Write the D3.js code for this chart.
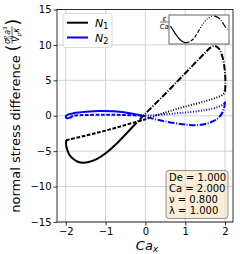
<!DOCTYPE html>
<html>
<head>
<meta charset="utf-8">
<script src="https://cdn.jsdelivr.net/npm/d3@7"></script>
<style>
body { margin: 0; background: #fff; }
text { font-family: "DejaVu Sans", sans-serif; }
</style>
</head>
<body>
<svg width="240" height="254"></svg>
<script>
var xTicks = [-2, -1, 0, 1, 2]
var yTicks = [-15, -10, -5, 0, 5, 10, 15]

// N1, one loop split by line style
var n1Dotted = [[0.0, -0.5], [0.5, 0.45], [1.0, 1.3], [1.5, 2.05], [1.8, 2.6], [1.95, 3.0], [2.0, 3.4]]
var n1DashDot = [[2.0, 3.4], [2.01, 4.6], [2.0, 6.0], [1.97, 7.4], [1.92, 8.6], [1.85, 9.45], [1.75, 9.85], [1.65, 9.7], [1.5, 8.9], [1.0, 6.0], [0.5, 3.1], [0.0, 0.3], [-0.3, -1.45]]
var n1Solid = [[-0.3, -1.45], [-0.7, -3.8], [-1.0, -5.3], [-1.2, -6.05], [-1.4, -6.5], [-1.56, -6.65], [-1.7, -6.5], [-1.8, -6.15], [-1.9, -5.6], [-1.95, -5.0], [-1.99, -4.2], [-1.99, -3.45]]
var n1Dashed = [[-1.99, -3.45], [-1.5, -2.8], [-1.0, -2.1], [-0.5, -1.3], [0.0, -0.5]]

// N2
var n2Dotted = [[0.0, 0.0], [0.5, 0.2], [1.0, 0.45], [1.5, 0.8], [1.8, 1.2], [1.95, 1.6], [2.0, 2.0]]
var n2DashDot = [[2.0, 2.0], [1.98, 1.2], [1.92, 0.3], [1.8, -0.45], [1.6, -1.0], [1.35, -1.3], [1.0, -1.25], [0.5, -0.8], [0.1, -0.3], [-0.15, 0.1]]
var n2Solid = [[-0.15, 0.1], [-0.5, 0.45], [-0.8, 0.62], [-1.15, 0.68], [-1.5, 0.55], [-1.8, 0.35], [-1.95, 0.15], [-2.0, -0.1], [-1.97, -0.35], [-1.9, -0.3]]
var n2Dashed = [[-1.9, -0.3], [-1.8, 0.0], [-1.5, 0.1], [-1.0, 0.15], [-0.5, 0.1], [0.0, 0.0]]

// inset: strain rate over one period
var insetT = [0, 0.05, 0.1, 0.15, 0.2, 0.27, 0.35, 0.42, 0.5, 0.57, 0.65, 0.72, 0.77, 0.83, 0.9, 0.97, 1.0]
var insetV = [0.25, -0.08, -0.4, -0.68, -0.88, -1.0, -0.88, -0.6, -0.05, 0.42, 0.82, 0.98, 1.0, 0.92, 0.6, 0.15, 0.0]

var params = ['De = 1.000', 'Ca = 2.000', 'ν = 0.800', 'λ = 1.000']

var dash = {
  solid: null,
  dashed: '3.7,1.6',
  dotted: '1,1.65',
  dashdot: '6.4,1.6,1,1.6'
}

var svg = d3.select('svg')
var x = d3.scaleLinear().domain([-2.22, 2.2]).range([57, 233])
var y = d3.scaleLinear().domain([-15, 15]).range([222, 9.5])

// grid
svg.append('g').selectAll('line').data(xTicks).join('line')
  .attr('x1', function(d) { return x(d) }).attr('x2', function(d) { return x(d) })
  .attr('y1', y(-15)).attr('y2', y(15))
  .attr('stroke', '#c8c8c8').attr('stroke-width', 0.8)
svg.append('g').selectAll('line').data(yTicks).join('line')
  .attr('y1', function(d) { return y(d) }).attr('y2', function(d) { return y(d) })
  .attr('x1', 57).attr('x2', 233)
  .attr('stroke', '#c8c8c8').attr('stroke-width', 0.8)

var line = d3.line()
  .x(function(d) { return x(d[0]) })
  .y(function(d) { return y(d[1]) })
  .curve(d3.curveCatmullRom)

function drawSeries(segs, color) {
  segs.forEach(function(s) {
    svg.append('path')
      .attr('d', line(s[0]))
      .attr('fill', 'none')
      .attr('stroke', color)
      .attr('stroke-width', 2)
      .attr('stroke-dasharray', dash[s[1]])
  })
}

drawSeries([[n2Dotted, 'dotted'], [n2DashDot, 'dashdot'], [n2Solid, 'solid'], [n2Dashed, 'dashed']], '#0000ff')
drawSeries([[n1Dotted, 'dotted'], [n1DashDot, 'dashdot'], [n1Solid, 'solid'], [n1Dashed, 'dashed']], '#000')

// axes
var fmt = d3.format('d')
svg.append('g').attr('transform', 'translate(0,222)')
  .call(d3.axisBottom(x).tickValues(xTicks).tickSize(3.5).tickPadding(2).tickFormat(fmt))
svg.append('g').attr('transform', 'translate(57,0)')
  .call(d3.axisLeft(y).tickValues(yTicks).tickSize(3.5).tickPadding(2).tickFormat(fmt))
svg.selectAll('.domain').remove()
svg.selectAll('.tick text').attr('font-size', 10).attr('font-family', 'DejaVu Sans').attr('fill', '#000')
svg.selectAll('.tick line').attr('stroke', '#000').attr('stroke-width', 0.8)

svg.append('rect')
  .attr('x', 57).attr('y', 9.5).attr('width', 176).attr('height', 212.5)
  .attr('fill', 'none').attr('stroke', '#000').attr('stroke-width', 0.8)

// legend
var leg = svg.append('g')
leg.append('rect')
  .attr('x', 63).attr('y', 13.5).attr('width', 49).attr('height', 34).attr('rx', 2.5)
  .attr('fill', '#fff').attr('fill-opacity', 0.8).attr('stroke', '#d0d0d0').attr('stroke-width', 0.8)
;[['#000', '1', 22.7], ['#0000ff', '2', 37.5]].forEach(function(e) {
  leg.append('line').attr('x1', 67).attr('x2', 88).attr('y1', e[2]).attr('y2', e[2])
    .attr('stroke', e[0]).attr('stroke-width', 2)
  var t = leg.append('text').attr('x', 95).attr('y', e[2] + 4).attr('font-size', 11)
  t.append('tspan').attr('font-style', 'italic').text('N')
  t.append('tspan').attr('font-size', 8).attr('dy', 2.5).text(e[1])
})

// parameter box
var box = svg.append('g')
box.append('rect')
  .attr('x', 166).attr('y', 170.5).attr('width', 62).attr('height', 48).attr('rx', 3)
  .attr('fill', '#f5deb3').attr('fill-opacity', 0.5)
  .attr('stroke', '#000').attr('stroke-opacity', 0.5).attr('stroke-width', 0.8)
box.selectAll('text').data(params).join('text')
  .attr('x', 169).attr('y', function(d, i) { return 181 + i * 10.9 })
  .attr('font-size', 10)
  .text(function(d) { return d })

// inset
var ix = d3.scaleLinear().domain([0, 1]).range([170.5, 227.5])
var iy = d3.scaleLinear().domain([-1.05, 1.05]).range([43.5, 15.5])
svg.append('rect')
  .attr('x', 169).attr('y', 15).attr('width', 60).attr('height', 29)
  .attr('fill', '#fff').attr('stroke', '#555').attr('stroke-width', 0.9)
var ipts = insetT.map(function(t, i) { return [t, insetV[i]] })
var iline = d3.line()
  .x(function(d) { return ix(d[0]) })
  .y(function(d) { return iy(d[1]) })
  .curve(d3.curveCatmullRom)
;[[0, 5, 'solid'], [5, 8, 'dashed'], [8, 12, 'dotted'], [12, 16, 'dashdot']].forEach(function(s) {
  svg.append('path')
    .attr('d', iline(ipts.slice(s[0], s[1] + 1)))
    .attr('fill', 'none').attr('stroke', '#000').attr('stroke-width', 1.2)
    .attr('stroke-dasharray', dash[s[2]])
})
svg.append('text').attr('x', 164.5).attr('y', 20.5).attr('font-size', 7)
  .attr('text-anchor', 'middle').attr('font-style', 'italic').text('ε̇')
svg.append('line').attr('x1', 160).attr('x2', 168.5).attr('y1', 22).attr('y2', 22)
  .attr('stroke', '#000').attr('stroke-width', 0.6)
svg.append('text').attr('x', 164.3).attr('y', 28.5).attr('font-size', 7)
  .attr('text-anchor', 'middle').attr('font-style', 'italic').text('Ca')

// x label
var xl = svg.append('text').attr('x', 147).attr('y', 249.5).attr('font-size', 13)
  .attr('text-anchor', 'middle')
xl.append('tspan').attr('font-style', 'italic').text('Ca')
xl.append('tspan').attr('font-style', 'italic').attr('font-size', 9).attr('dy', 2.5).text('x')

// y label, built in rotated frame then centred on the axes
var yl = svg.append('g')
var main = yl.append('text').attr('x', 0).attr('y', 20).attr('font-size', 13)
  .text('normal stress difference')
var mw = main.node().getComputedTextLength()
var px = mw + 4
var lp = yl.append('text').attr('x', px).attr('y', 19).attr('font-size', 17).text('(')
var fx = px + lp.node().getComputedTextLength() + 0.5
var num = yl.append('text').attr('x', fx).attr('y', 10).attr('font-size', 8)
num.append('tspan').attr('font-style', 'italic').text('σ')
num.append('tspan').attr('font-size', 5.5).attr('dy', 2).attr('font-style', 'italic').text('ij')
num.append('tspan').attr('font-size', 5.5).attr('dy', -5).attr('dx', -3.5).attr('font-style', 'italic').text('p')
num.append('tspan').attr('dy', 3).attr('dx', 1).attr('font-style', 'italic').text('a')
num.append('tspan').attr('font-size', 5.5).attr('dy', -3).text('3')
var nw = num.node().getBBox().width
var den = yl.append('text').attr('x', fx + nw / 2).attr('y', 19).attr('font-size', 8)
  .attr('text-anchor', 'middle')
den.append('tspan').attr('font-style', 'italic').text('V')
den.append('tspan').attr('font-size', 5.5).attr('dy', 2).attr('font-style', 'italic').text('p')
den.append('tspan').attr('dy', -2).attr('font-style', 'italic').text('κ')
yl.append('line').attr('x1', fx).attr('x2', fx + nw).attr('y1', 12).attr('y2', 12)
  .attr('stroke', '#000').attr('stroke-width', 0.6)
yl.append('text').attr('x', fx + nw + 0.5).attr('y', 19).attr('font-size', 17).text(')')
var bb = yl.node().getBBox()
var cx = bb.x + bb.width / 2
yl.attr('transform', 'translate(0,' + (115.75 + cx) + ') rotate(-90)')
</script>
</body>
</html>
